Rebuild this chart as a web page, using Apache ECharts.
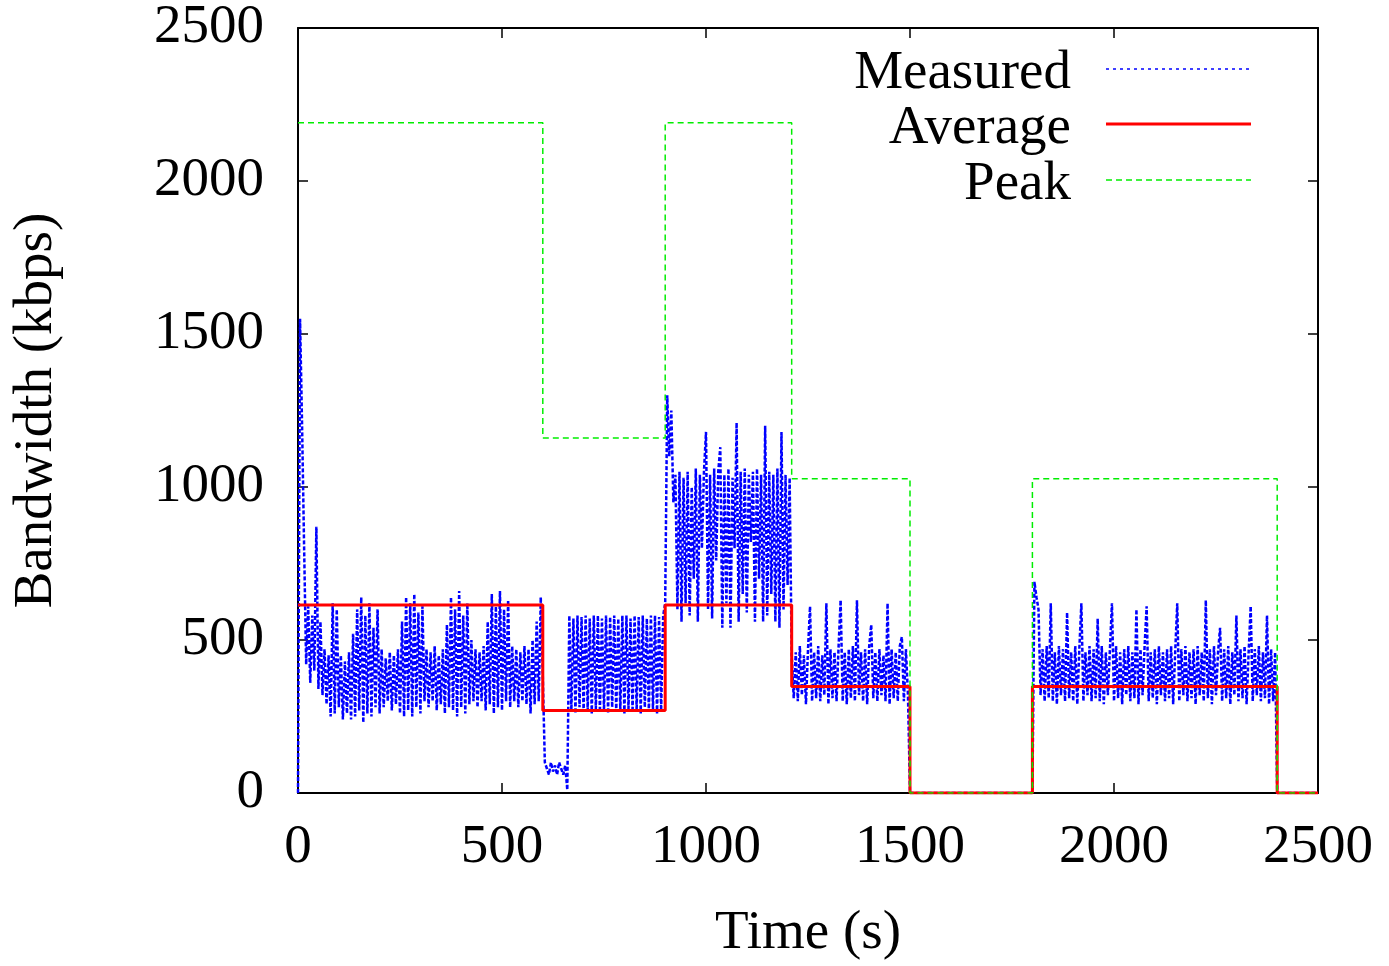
<!DOCTYPE html>
<html>
<head>
<meta charset="utf-8">
<script src="https://cdn.jsdelivr.net/npm/echarts@6/dist/echarts.min.js"></script>
<style>
html,body{margin:0;padding:0;background:#fff;overflow:hidden;}
#chart{width:1389px;height:966px;}
</style>
</head>
<body>
<div id="chart"></div>
<script>
// ---- data ----
const xTicks = [0, 500, 1000, 1500, 2000, 2500];
const yTicks = [0, 500, 1000, 1500, 2000, 2500];

// Measured bandwidth (kbps), sampled every 5 s within each segment
const measured0Start = 0; // t = 0 .. 595
const measured0 = [
  0, 1550, 1200, 800, 420, 610, 360, 580, 400, 870,
  340, 560, 320, 470, 290, 450, 250, 620, 260, 600,
  280, 450, 240, 430, 260, 460, 240, 520, 250, 600,
  270, 640, 230, 580, 260, 620, 250, 540, 280, 600,
  260, 470, 280, 440, 300, 460, 270, 450, 290, 470,
  260, 560, 250, 640, 270, 620, 250, 650, 280, 590,
  260, 610, 300, 470, 280, 460, 300, 480, 270, 450,
  290, 470, 260, 550, 280, 640, 270, 600, 250, 660,
  280, 580, 260, 620, 290, 500, 300, 470, 280, 460,
  300, 480, 270, 560, 290, 650, 260, 610, 280, 660,
  270, 600, 300, 630, 280, 480, 300, 470, 280, 460,
  300, 480, 290, 470, 260, 500, 290, 560, 300, 640
];
const measured1Start = 600; // t = 600 .. 895
const measured1 = [
  380, 100, 80, 60, 100, 70, 90, 60, 100, 80,
  60, 90, 10, 580, 270, 570, 260, 580, 280, 575,
  265, 580, 270, 570, 260, 580, 275, 580, 265, 570,
  270, 580, 260, 575, 280, 580, 265, 570, 270, 580,
  260, 580, 275, 570, 265, 580, 270, 575, 260, 580,
  280, 570, 265, 580, 270, 580, 260, 575, 270, 580
];
const measured2Start = 900; // t = 900 .. 1205
const measured2 = [
  620, 1300, 1100, 1250, 950, 1040, 600, 1050, 560, 1030,
  620, 1050, 580, 1000, 700, 1060, 560, 1040, 800, 1050,
  1180, 600, 1040, 570, 1060, 760, 1050, 1130, 540, 1040,
  620, 1060, 540, 1030, 800, 1210, 560, 1050, 650, 1060,
  590, 1040, 820, 1050, 560, 1060, 700, 1040, 560, 1200,
  580, 1050, 650, 1040, 560, 1060, 540, 1180, 600, 1040,
  680, 1030
];
const measured3Start = 1210; // t = 1210 .. 1495
const measured3 = [
  450, 310, 460, 300, 480, 320, 450, 290, 470, 610,
  300, 460, 310, 480, 300, 450, 320, 620, 290, 470,
  310, 460, 300, 480, 630, 300, 460, 290, 470, 310,
  480, 300, 630, 320, 460, 300, 470, 290, 480, 550,
  310, 460, 300, 470, 320, 450, 300, 620, 290, 470,
  310, 460, 300, 480, 510, 300, 470, 320
];
const idle1Times = [1500, 1800];
const idle1Values = [0, 0];
const measured4Start = 1805; // t = 1805 .. 2395
const measured4 = [
  690, 640, 600, 320, 470, 300, 480, 310, 620, 300,
  460, 290, 480, 320, 470, 300, 590, 310, 460, 300,
  480, 290, 470, 620, 300, 460, 320, 480, 300, 470,
  310, 570, 300, 480, 290, 460, 320, 470, 620, 300,
  480, 310, 460, 290, 470, 320, 480, 300, 460, 310,
  600, 290, 470, 320, 480, 610, 300, 460, 310, 470,
  290, 480, 320, 460, 300, 470, 310, 480, 290, 460,
  620, 300, 470, 320, 480, 300, 460, 310, 470, 290,
  480, 320, 460, 300, 630, 310, 470, 290, 480, 320,
  460, 540, 300, 470, 310, 480, 290, 460, 320, 580,
  300, 470, 310, 480, 290, 460, 610, 300, 470, 320,
  480, 300, 460, 310, 580, 290, 470, 300, 460
];
const idle2Times = [2400, 2500];
const idle2Values = [0, 0];
const measuredStep = 5;

// Configured rates (step functions): value holds from each time until the next
const rateTimes = [0, 600, 900, 1210, 1500, 1800, 2400, 2500];
const averageValues = [614, 270, 614, 348, 0, 348, 0, 0];
const peakValues = [2190, 1160, 2190, 1027, 0, 1027, 0, 0];

const seriesNames = ['Measured', 'Average', 'Peak'];
const xName = 'Time (s)';
const yName = 'Bandwidth (kbps)';

// ---- build ----
function seg(start, step, vals) { return vals.map((v, i) => [start + i * step, v]); }
function pairs(ts, vs) { return ts.map((t, i) => [t, vs[i]]); }
const measuredData = [].concat(
  seg(measured0Start, measuredStep, measured0),
  seg(measured1Start, measuredStep, measured1),
  seg(measured2Start, measuredStep, measured2),
  seg(measured3Start, measuredStep, measured3),
  pairs(idle1Times, idle1Values),
  seg(measured4Start, measuredStep, measured4),
  pairs(idle2Times, idle2Values)
);

const FONT = 'Liberation Serif';
const FS = 55;
const colors = { Measured: '#0000ff', Average: '#ff0000', Peak: '#00ee00' };
const styles = {
  Measured: { width: 2.5, type: [4, 2] },
  Average: { width: 3, type: 'solid' },
  Peak: { width: 1.5, type: [6, 4] }
};

function axisCommon(extra) {
  return Object.assign({
    type: 'value', min: 0, max: 2500, interval: 500,
    axisLine: { show: true, onZero: false, lineStyle: { color: '#000', width: 2 } },
    axisTick: { show: true, inside: true, length: 10, lineStyle: { color: '#000', width: 1.5 } },
    splitLine: { show: false }
  }, extra);
}

const chart = echarts.init(document.getElementById('chart'), null, { renderer: 'canvas' });

const legendGraphics = [];
const legendRowsY = [69, 124, 180];
seriesNames.forEach((n, i) => {
  legendGraphics.push({
    type: 'text', right: 1389 - 1071, top: legendRowsY[i] - 23,
    style: { text: n, font: FS + 'px "' + FONT + '"', fill: '#000', textAlign: 'right' }
  });
  legendGraphics.push({
    type: 'line', shape: { x1: 1106, y1: legendRowsY[i], x2: 1251, y2: legendRowsY[i] },
    style: { stroke: colors[n], lineWidth: n === 'Measured' ? 1.5 : styles[n].width,
      lineDash: n === 'Measured' ? [3, 4] : (styles[n].type === 'solid' ? null : styles[n].type) }
  });
});

chart.setOption({
  animation: false,
  backgroundColor: '#fff',
  grid: { left: 298, right: 71, top: 28, bottom: 163, containLabel: false },
  xAxis: [
    axisCommon({
      position: 'bottom',
      axisLabel: { fontFamily: FONT, fontSize: FS, color: '#000', margin: 27,
        formatter: v => xTicks.includes(v) ? String(v) : '' },
      name: xName, nameLocation: 'middle', nameGap: 113,
      nameTextStyle: { fontFamily: FONT, fontSize: FS, color: '#000' }
    }),
    axisCommon({ position: 'top', axisLabel: { show: false } })
  ],
  yAxis: [
    axisCommon({
      position: 'left',
      axisLabel: { fontFamily: FONT, fontSize: FS, color: '#000', margin: 34,
        formatter: v => yTicks.includes(v) ? String(v) : '' },
      name: yName, nameLocation: 'middle', nameGap: 234,
      nameTextStyle: { fontFamily: FONT, fontSize: FS, color: '#000' }
    }),
    axisCommon({ position: 'right', axisLabel: { show: false } })
  ],
  graphic: legendGraphics,
  series: [
    {
      name: 'Measured', type: 'line', xAxisIndex: 0, yAxisIndex: 0,
      data: measuredData, showSymbol: false, symbol: 'none',
      lineStyle: { color: colors.Measured, width: styles.Measured.width, type: styles.Measured.type },
      z: 2
    },
    {
      name: 'Average', type: 'line', xAxisIndex: 0, yAxisIndex: 0,
      data: pairs(rateTimes, averageValues), step: 'end', showSymbol: false, symbol: 'none',
      lineStyle: { color: colors.Average, width: styles.Average.width, type: 'solid' },
      z: 3
    },
    {
      name: 'Peak', type: 'line', xAxisIndex: 0, yAxisIndex: 0,
      data: pairs(rateTimes, peakValues), step: 'end', showSymbol: false, symbol: 'none',
      lineStyle: { color: colors.Peak, width: styles.Peak.width, type: styles.Peak.type },
      z: 4
    }
  ]
});
</script>
</body>
</html>
